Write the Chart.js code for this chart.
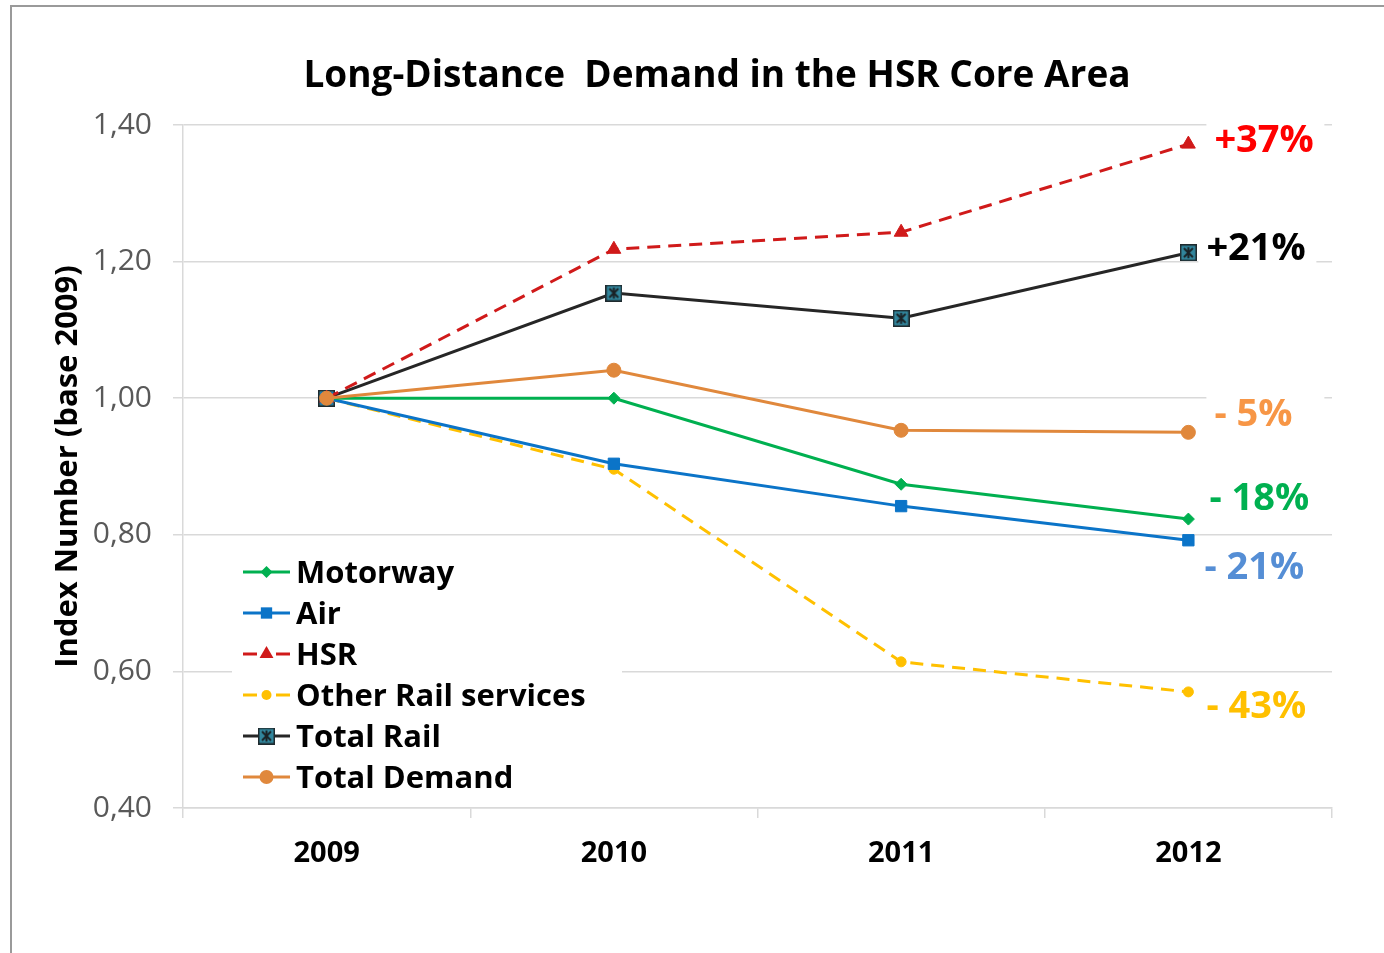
<!DOCTYPE html>
<html>
<head>
<meta charset="utf-8">
<script src="https://cdn.jsdelivr.net/npm/chart.js@4.4.1/dist/chart.umd.min.js"></script>
<style>
  html, body { margin: 0; padding: 0; background: #fff; }
  #wrap { position: relative; width: 1384px; height: 953px; overflow: hidden; }
  #frame { position: absolute; left: 10px; top: 5px; right: -5px; bottom: -5px;
           border-top: 2px solid #9a9a9a; border-left: 2px solid #9a9a9a; }
  canvas { position: absolute; left: 0; top: 0; }
</style>
</head>
<body>
<div id="wrap">
  <canvas id="c" width="1384" height="953"></canvas>
  <div id="frame"></div>
</div>
<script>
// ---- data ----
const categories = ['2009', '2010', '2011', '2012'];
const seriesNames = ['Motorway', 'Air', 'HSR', 'Other Rail services', 'Total Rail', 'Total Demand'];
const motorway    = [1.00, 1.00, 0.874, 0.823];
const air         = [1.00, 0.904, 0.842, 0.792];
const hsr         = [1.00, 1.218, 1.243, 1.372];
const otherRail   = [1.00, 0.896, 0.614, 0.570];
const totalRail   = [1.00, 1.154, 1.117, 1.213];
const totalDemand = [1.00, 1.041, 0.953, 0.950];
const endLabels   = ['- 18%', '- 21%', '+37%', '- 43%', '+21%', '- 5%'];
const yTickValues = [0.40, 0.60, 0.80, 1.00, 1.20, 1.40];
const yTickLabels = ['0,40', '0,60', '0,80', '1,00', '1,20', '1,40'];
const chartTitle  = 'Long-Distance  Demand in the HSR Core Area';
const yAxisTitle  = 'Index Number (base 2009)';

// ---- styles ----
const FONT = '"Open Sans", Lato, sans-serif';
const endLabelStyle = [
  { color: '#00b050', dx: 21, dy: -21 },
  { color: '#558ed5', dx: 16, dy: 27 },
  { color: '#ff0000', dx: 26, dy: -4 },
  { color: '#ffc000', dx: 18, dy: 14 },
  { color: '#000000', dx: 18, dy: -5 },
  { color: '#f79646', dx: 26, dy: -18 }
];

// Total Rail marker: teal square with dark cross
function makeRailMarker() {
  const s = 17, c = document.createElement('canvas');
  c.width = s; c.height = s;
  const g = c.getContext('2d');
  g.fillStyle = '#1f2a2e'; g.fillRect(0, 0, s, s);
  g.fillStyle = '#31859c'; g.fillRect(1.5, 1.5, s - 3, s - 3);
  g.strokeStyle = '#1a2226'; g.lineWidth = 2;
  g.beginPath();
  g.moveTo(4, 4); g.lineTo(s - 4, s - 4);
  g.moveTo(s - 4, 4); g.lineTo(4, s - 4);
  g.moveTo(s / 2, 3); g.lineTo(s / 2, s - 3);
  g.stroke();
  return c;
}
const railMarker = makeRailMarker();

const seriesValues = [motorway, air, hsr, otherRail, totalRail, totalDemand];
const seriesStyle = [
  { color: '#00b050', point: 'rectRot', radius: 6, dash: [], order: 1 },
  { color: '#0b74c8', point: 'rect', radius: 8, dash: [], order: 1 },
  { color: '#d01a1a', point: 'triangle', radius: 8, dash: [13, 8], order: 1 },
  { color: '#ffc000', point: 'circle', radius: 5, dash: [13, 8], order: 1 },
  { color: '#262626', point: railMarker, radius: 8, dash: [], order: 1, pointColor: '#31859c' },
  { color: '#e0883c', point: 'circle', radius: 7, dash: [], order: 0 }
];

const datasets = seriesNames.map((name, i) => {
  const st = seriesStyle[i];
  return {
    label: name,
    data: seriesValues[i],
    borderColor: st.color,
    backgroundColor: st.pointColor || st.color,
    pointBackgroundColor: st.pointColor || st.color,
    pointBorderColor: st.pointColor || st.color,
    borderWidth: 3,
    borderDash: st.dash,
    pointStyle: st.point,
    pointRadius: st.radius,
    pointBorderWidth: 1,
    tension: 0,
    order: st.order,
    clip: false
  };
});

function drawMarker(ctx, st, x, y) {
  ctx.save();
  ctx.setLineDash([]);
  ctx.fillStyle = st.pointColor || st.color;
  ctx.strokeStyle = st.pointColor || st.color;
  const r = st.radius;
  if (st.point instanceof HTMLCanvasElement) {
    ctx.drawImage(st.point, x - st.point.width / 2, y - st.point.height / 2);
  } else if (st.point === 'circle') {
    ctx.beginPath(); ctx.arc(x, y, r, 0, Math.PI * 2); ctx.fill();
  } else if (st.point === 'rect') {
    const h = r * Math.SQRT1_2;
    ctx.fillRect(x - h, y - h, 2 * h, 2 * h);
  } else if (st.point === 'rectRot') {
    ctx.beginPath();
    ctx.moveTo(x, y - r); ctx.lineTo(x + r, y); ctx.lineTo(x, y + r); ctx.lineTo(x - r, y);
    ctx.closePath(); ctx.fill();
  } else if (st.point === 'triangle') {
    ctx.beginPath();
    ctx.moveTo(x, y - r); ctx.lineTo(x + r * 0.87, y + r * 0.5); ctx.lineTo(x - r * 0.87, y + r * 0.5);
    ctx.closePath(); ctx.fill();
  }
  ctx.restore();
}

const overlayPlugin = {
  id: 'overlay',
  afterDatasetsDraw(chart) {
    const ctx = chart.ctx;
    const xs = chart.scales.x, ys = chart.scales.y;
    // title
    ctx.save();
    ctx.font = 'bold 37px ' + FONT;
    ctx.fillStyle = '#000';
    ctx.textAlign = 'center';
    ctx.textBaseline = 'middle';
    ctx.fillText(chartTitle, 717, 76);
    ctx.restore();

    // end labels
    const last = categories.length - 1;
    seriesNames.forEach((n, i) => {
      const st = endLabelStyle[i];
      const x = xs.getPixelForValue(last) + st.dx;
      const y = ys.getPixelForValue(seriesValues[i][last]) + st.dy;
      ctx.save();
      ctx.font = 'bold 38px ' + FONT;
      const w = ctx.measureText(endLabels[i]).width;
      ctx.fillStyle = '#fff';
      ctx.fillRect(x - 8, y - 19, Math.max(w + 16, 118), 38);
      ctx.fillStyle = st.color;
      ctx.textAlign = 'left';
      ctx.textBaseline = 'middle';
      ctx.fillText(endLabels[i], x, y + 1);
      ctx.restore();
    });

    // legend
    ctx.save();
    ctx.fillStyle = '#fff';
    ctx.fillRect(232, 552, 390, 246);
    const lx0 = 243, lx1 = 290, y0 = 572, dy = 41;
    seriesNames.forEach((n, i) => {
      const st = seriesStyle[i];
      const y = y0 + i * dy;
      ctx.save();
      ctx.strokeStyle = st.color;
      ctx.lineWidth = 3;
      if (st.dash.length) {
        ctx.beginPath(); ctx.moveTo(lx0, y); ctx.lineTo(lx0 + 14, y); ctx.stroke();
        ctx.beginPath(); ctx.moveTo(lx1 - 14, y); ctx.lineTo(lx1, y); ctx.stroke();
      } else {
        ctx.beginPath(); ctx.moveTo(lx0, y); ctx.lineTo(lx1, y); ctx.stroke();
      }
      ctx.restore();
      drawMarker(ctx, st, (lx0 + lx1) / 2, y);
      ctx.save();
      ctx.font = 'bold 31px ' + FONT;
      ctx.fillStyle = '#000';
      ctx.textAlign = 'left';
      ctx.textBaseline = 'middle';
      ctx.fillText(n, 296, y + 2);
      ctx.restore();
    });
    ctx.restore();
  }
};

new Chart(document.getElementById('c'), {
  type: 'line',
  data: { labels: categories, datasets },
  plugins: [overlayPlugin],
  options: {
    responsive: false,
    devicePixelRatio: 1,
    animation: false,
    layout: { padding: { left: 10, right: 52, top: 125, bottom: 0 } },
    plugins: { legend: { display: false }, title: { display: false }, tooltip: { enabled: false } },
    scales: {
      x: {
        offset: true,
        grid: { display: true, drawOnChartArea: false, drawTicks: true, tickLength: 10, color: '#d9d9d9', lineWidth: 1.5, offset: true },
        border: { display: true, color: '#d9d9d9', width: 1.5 },
        ticks: { color: '#000', font: { family: FONT, size: 29, weight: 'bold' }, padding: 18 },
        afterFit(s) { s.height = 145; }
      },
      y: {
        min: 0.4, max: 1.4,
        afterBuildTicks(s) { s.ticks = yTickValues.map(v => ({ value: v })); },
        grid: { color: '#d9d9d9', lineWidth: 1.5, drawTicks: true, tickLength: 10 },
        border: { display: true, color: '#d9d9d9', width: 1.5 },
        ticks: {
          color: '#595959', padding: 21,
          font: { family: FONT, size: 30 },
          callback(v, idx) { return yTickLabels[idx]; }
        },
        title: {
          display: true, text: yAxisTitle, color: '#000',
          font: { family: FONT, size: 31, weight: 'bold' },
          padding: { top: 40, bottom: 0 }
        },
        afterFit(s) { s.width = 173; }
      }
    }
  }
});
</script>
</body>
</html>
